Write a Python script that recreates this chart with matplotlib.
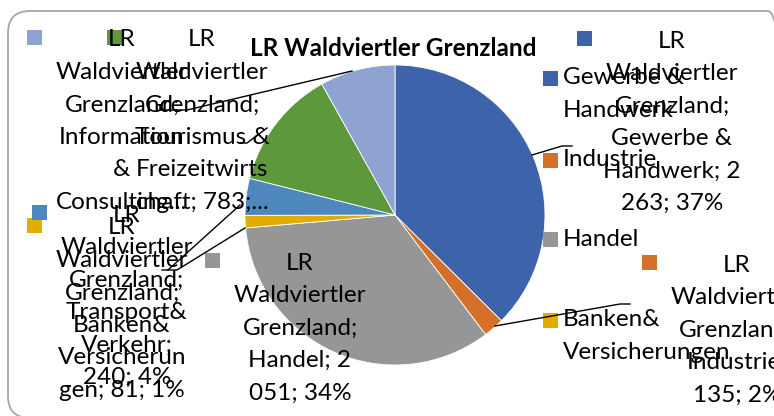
import matplotlib.pyplot as plt
from matplotlib.patches import FancyBboxPatch, Rectangle

plt.rcParams['font.family'] = ['Lato', 'DejaVu Sans']

# data (slices clockwise from 12 o'clock, like the Excel chart)
categories = ["Gewerbe & Handwerk", "Industrie", "Handel", "Banken& Versicherungen",
              "Transport& Verkehr", "Tourismus & Freizeitwirtschaft", "Information & Consulting"]
values = [2263, 135, 2051, 81, 240, 783, 490]
colors = ["#3D64AA", "#D4702A", "#969696", "#E3AC00", "#4E86BE", "#5E983D", "#8FA3D3"]
title = "LR Waldviertler Grenzland"

# data labels, wrapped the way Excel wrapped them
label_lines = [
    ["LR", "Waldviertler", "Grenzland;", "Gewerbe &", "Handwerk; 2", "263; 37%"],
    ["LR", "Waldviertler", "Grenzland;", "Industrie;", "135; 2%"],
    ["LR", "Waldviertler", "Grenzland;", "Handel; 2", "051; 34%"],
    ["LR", "Waldviertler", "Grenzland;", "Banken&", "Versicherun", "gen; 81; 1%"],
    ["LR", "Waldviertler", "Grenzland;", "Transport&", "Verkehr;", "240; 4%"],
    ["LR", "Waldviertler", "Grenzland;", "Tourismus &", "Freizeitwirts", "chaft; 783;..."],
    ["LR", "Waldviertler", "Grenzland;", "Information", "&", "Consulting..."],
]
legend_lines = [["Gewerbe &", "Handwerk"], ["Industrie"], ["Handel"], ["Banken&", "Versicherungen"]]

W, H = 774, 416
def Y(y):
    return H - y

# layout (pixel positions of the reference, y from top)
label_pos = [(672, 41), (737, 265), (300, 263), (122, 228), (127, 215), (202, 40), (122, 40)]
pitch = 32.5
leaders = [
    [(532, 155), (562, 146), (572, 146)],
    [(495, 326), (620, 304), (630, 304)],
    None,
    [(245, 228), (177, 270), (168, 270)],
    [(240, 205), (168, 270), (162, 270)],
    [(267, 128), (247, 143), (240, 143)],
    [(352, 71), (187, 110), (160, 110)],
]
legend_y = [78, 160, 239, 320]
fs = 17.5

fig = plt.figure(figsize=(7.74, 4.16), dpi=100)
ax = fig.add_axes([0, 0, 1, 1])

ax.pie(values, colors=colors, startangle=90, counterclock=False,
       center=(395, Y(215)), radius=150,
       wedgeprops=dict(edgecolor='white', linewidth=0.6))

# chart area border
ax.add_patch(FancyBboxPatch((8, Y(418)), 782, 407, boxstyle="round,pad=0,rounding_size=22",
                            ec='#a6a6a6', fc='none', lw=1.3))

ax.text(393, Y(48), title, ha='center', va='center', fontsize=17.5, fontweight='bold')

# leader lines
for pts in leaders:
    if pts is None:
        continue
    ax.plot([p[0] for p in pts], [Y(p[1]) for p in pts], color='black', lw=1)

# data labels with legend keys
for lines, (cx, y0), col in zip(label_lines, label_pos, colors):
    ax.add_patch(Rectangle((cx - 88 - 7.5, Y(y0 - 3) - 7.5), 15, 15, fc=col, ec='none'))
    for i, s in enumerate(lines):
        ax.text(cx, Y(y0 + i * pitch), s, ha='center', va='center', fontsize=fs)

# legend (only the first four entries fit)
for lines, ly, col in zip(legend_lines, legend_y, colors):
    ax.add_patch(Rectangle((543, Y(ly) - 7.5), 15, 15, fc=col, ec='none'))
    for i, s in enumerate(lines):
        ax.text(563, Y(ly + i * pitch), s, ha='left', va='center', fontsize=fs)

ax.set_xlim(0, W)
ax.set_ylim(0, H)
ax.set_aspect('equal')
ax.axis('off')

fig.savefig('out.png', dpi=100)
